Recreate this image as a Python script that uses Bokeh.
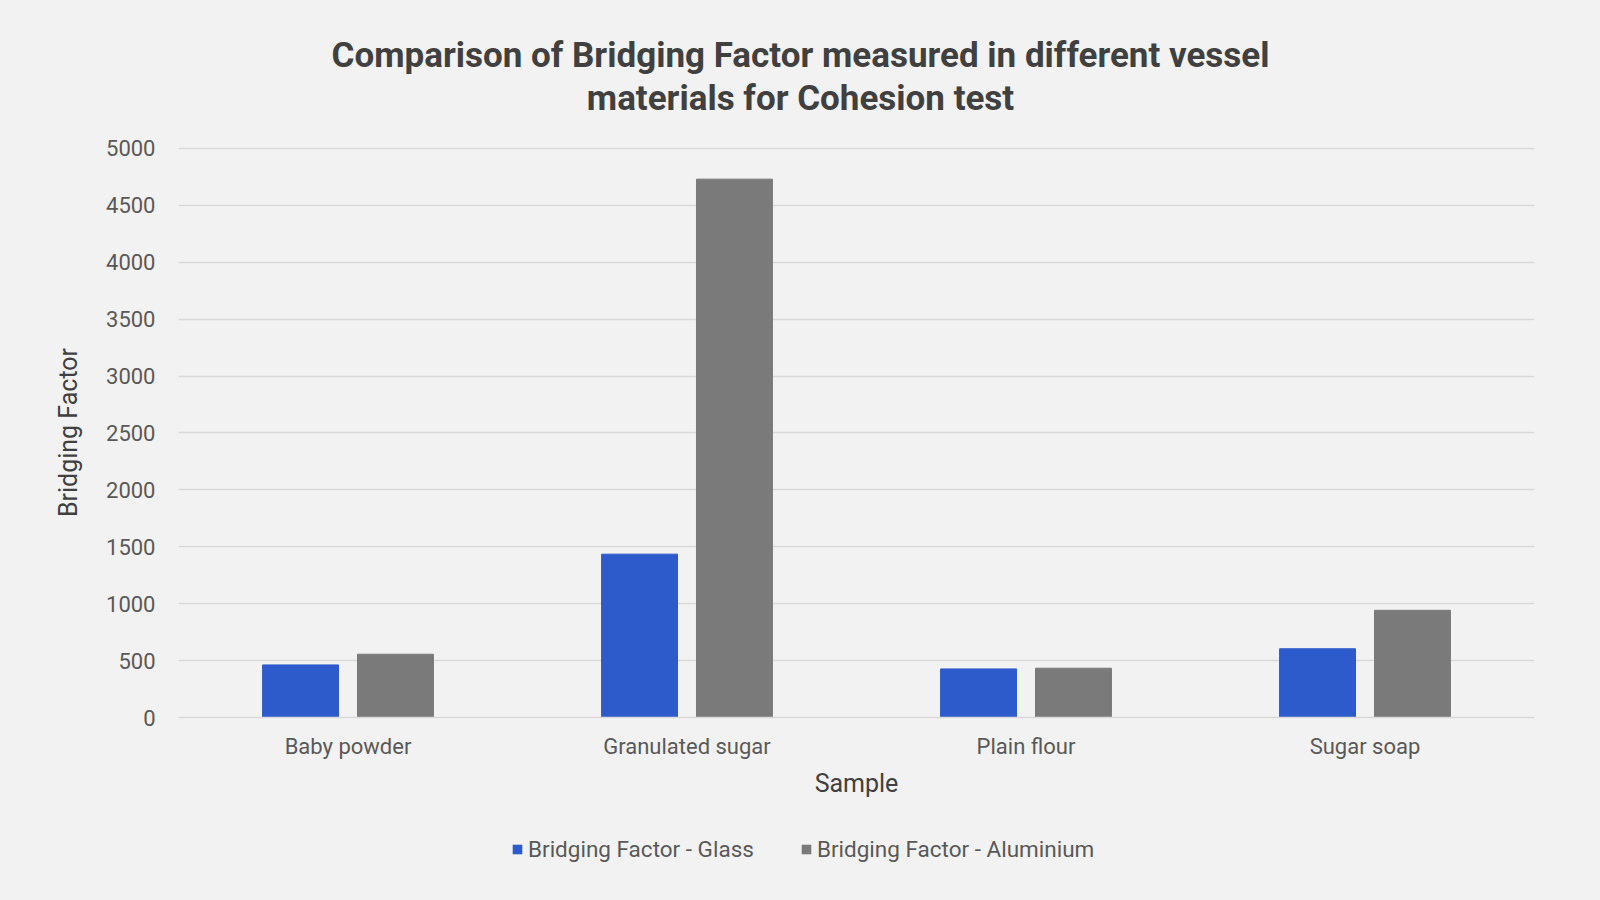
from bokeh.plotting import figure
from bokeh.layouts import column
from bokeh.models import FactorRange, Range1d, Label, Legend, LegendItem, SingleIntervalTicker, ColumnDataSource
from bokeh.transform import dodge
from bokeh.embed import file_html
from bokeh.resources import INLINE

categories = ["Baby powder", "Granulated sugar", "Plain flour", "Sugar soap"]
glass = [462, 1435, 427, 604]
aluminium = [556, 4730, 433, 942]
series_names = ["Bridging Factor - Glass", "Bridging Factor - Aluminium"]
title_lines = ["Comparison of Bridging Factor measured in different vessel", "materials for Cohesion test"]
x_label = "Sample"
y_label = "Bridging Factor"

BG = "#f2f2f2"
BLUE = "#2e5bcc"
GRAY = "#7a7a7a"
TXT = "#595959"
DARK = "#404040"
FONT = "Roboto"

src = ColumnDataSource(dict(cat=categories, glass=glass, alu=aluminium))


def strip(h):
    f = figure(width=1600, height=h, x_range=FactorRange(*categories), y_range=Range1d(100000, 100001),
               output_backend="svg", toolbar_location=None,
               min_border_left=178, min_border_right=66, min_border_top=0, min_border_bottom=0)
    f.background_fill_color = None
    f.border_fill_color = BG
    f.outline_line_color = None
    f.axis.visible = False
    f.grid.visible = False
    return f


# title strip
tf = strip(120)
for i, line in enumerate(title_lines):
    tf.add_layout(Label(x=622, y=65 - 43 * i, x_units="screen", y_units="screen", text=line,
                        text_align="center", text_baseline="middle", text_font=FONT,
                        text_font_size="35px", text_font_style="bold", text_color=DARK))

# main chart
p = figure(width=1600, height=680, x_range=FactorRange(*categories), y_range=Range1d(0, 5008),
           output_backend="svg", toolbar_location=None,
           min_border_left=178, min_border_right=66, min_border_top=27, min_border_bottom=82)
p.background_fill_color = None
p.border_fill_color = BG
p.outline_line_color = None

p.vbar(x=dodge("cat", -0.14, range=p.x_range), top="glass", width=0.224, source=src,
       fill_color=BLUE, line_color=BLUE)
p.vbar(x=dodge("cat", 0.14, range=p.x_range), top="alu", width=0.224, source=src,
       fill_color=GRAY, line_color=GRAY)

p.xgrid.grid_line_color = None
p.ygrid.grid_line_color = "#d9d9d9"
p.ygrid.grid_line_width = 1.5
p.yaxis.ticker = SingleIntervalTicker(interval=500)

for ax in (p.xaxis[0], p.yaxis[0]):
    ax.major_tick_line_color = None
    ax.minor_tick_line_color = None
    ax.major_label_text_font = FONT
    ax.major_label_text_font_size = "22px"
    ax.major_label_text_color = TXT
    ax.axis_label_text_font = FONT
    ax.axis_label_text_font_size = "25px"
    ax.axis_label_text_font_style = "normal"
    ax.axis_label_text_color = DARK

p.xaxis.axis_line_color = "#d9d9d9"
p.xaxis.axis_line_width = 1.5
p.yaxis.axis_line_color = None
p.xaxis.major_label_standoff = 10
p.xaxis.axis_label = x_label
p.xaxis.axis_label_standoff = 7
p.yaxis.axis_label = y_label
p.yaxis.major_label_standoff = 17
p.yaxis.axis_label_standoff = 20

# legend strip (its bars lie far outside the strip's visible range; only the legend shows)
lg = strip(100)
g1 = lg.vbar(x=dodge("cat", -0.14, range=lg.x_range), top="glass", width=0.224, source=src,
             fill_color=BLUE, line_color=None)
g2 = lg.vbar(x=dodge("cat", 0.14, range=lg.x_range), top="alu", width=0.224, source=src,
             fill_color=GRAY, line_color=None)
legend = Legend(items=[LegendItem(label=series_names[0], renderers=[g1]),
                       LegendItem(label=series_names[1], renderers=[g2])],
                orientation="horizontal", location=(333, 38),
                glyph_width=12, glyph_height=12, label_standoff=5, spacing=46,
                padding=0, margin=0, border_line_color=None, background_fill_alpha=0,
                label_text_font=FONT, label_text_font_size="22.5px", label_text_color=TXT)
lg.add_layout(legend, "center")

layout = column(tf, p, lg, spacing=0, styles={"background-color": BG})
open("out.html", "w").write(file_html(layout, INLINE))
